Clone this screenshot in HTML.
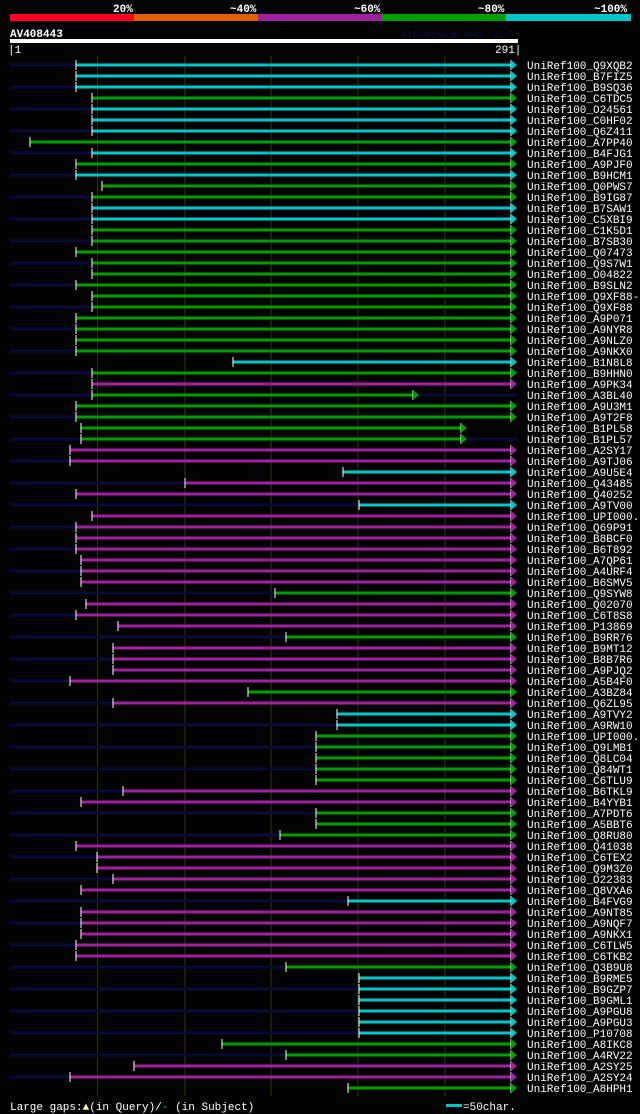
<!DOCTYPE html>
<html><head><meta charset="utf-8"><style>
html,body{margin:0;padding:0;background:#000;}
svg{display:block;}
text{font-family:"Liberation Mono",monospace;fill:#fff;}
</style></head><body>
<svg width="640" height="1114" xmlns="http://www.w3.org/2000/svg">
<rect width="640" height="1114" fill="#030303"/>
<g font-size="11" font-weight="bold">
<text x="113" y="12">20%</text><text x="230" y="12">~40%</text><text x="354" y="12">~60%</text><text x="478" y="12">~80%</text><text x="594" y="12">~100%</text>
</g>
<rect x="10" y="14" width="124" height="7" fill="#ff0022"/>
<rect x="134" y="14" width="124" height="7" fill="#e06000"/>
<rect x="258" y="14" width="124" height="7" fill="#a020a0"/>
<rect x="382" y="14" width="124" height="7" fill="#00a000"/>
<rect x="506" y="14" width="125" height="7" fill="#00c8c8"/>
<text x="10" y="37" font-size="11" font-weight="bold">AV408443</text>
<text x="402" y="37" font-size="8" style="fill:#101050">AlignView.pm Beta rel.7</text>
<rect x="10" y="39" width="508" height="4" fill="#fff"/>
<text x="8" y="53" font-size="11">|1</text>
<text x="495" y="53" font-size="11">291|</text>
<g stroke="#33330a" stroke-width="1">
<line x1="97.5" y1="56" x2="97.5" y2="1096"/><line x1="185" y1="56" x2="185" y2="1096"/><line x1="271" y1="56" x2="271" y2="1096"/><line x1="358" y1="56" x2="358" y2="1096"/><line x1="445" y1="56" x2="445" y2="1096"/>
</g>
<g id="rows" font-size="11"></g>
<text x="10" y="1110" font-size="11">Large gaps:<tspan style="fill:#ffff80">▲</tspan>(in Query)/<tspan style="fill:#00c8c8">-</tspan> (in Subject)</text>
<rect x="446" y="1104" width="16" height="3" fill="#00c8c8"/>
<text x="463" y="1110" font-size="11">=50char.</text>
<g font-size="11">
<text x="527" y="69">UniRef100_Q9XQB2</text>
<text x="527" y="80">UniRef100_B7FIZ5</text>
<text x="527" y="91">UniRef100_B9SQ36</text>
<text x="527" y="102">UniRef100_C6TDC5</text>
<text x="527" y="113">UniRef100_O24561</text>
<text x="527" y="124">UniRef100_C0HF02</text>
<text x="527" y="135">UniRef100_Q6Z411</text>
<text x="527" y="146">UniRef100_A7PP40</text>
<text x="527" y="157">UniRef100_B4FJG1</text>
<text x="527" y="168">UniRef100_A9PJF0</text>
<text x="527" y="179">UniRef100_B9HCM1</text>
<text x="527" y="190">UniRef100_Q0PWS7</text>
<text x="527" y="201">UniRef100_B9IG87</text>
<text x="527" y="212">UniRef100_B7SAW1</text>
<text x="527" y="223">UniRef100_C5XBI9</text>
<text x="527" y="234">UniRef100_C1K5D1</text>
<text x="527" y="245">UniRef100_B7SB30</text>
<text x="527" y="256">UniRef100_Q07473</text>
<text x="527" y="267">UniRef100_Q9S7W1</text>
<text x="527" y="278">UniRef100_O04822</text>
<text x="527" y="289">UniRef100_B9SLN2</text>
<text x="527" y="300">UniRef100_Q9XF88-2</text>
<text x="527" y="311">UniRef100_Q9XF88</text>
<text x="527" y="322">UniRef100_A9P071</text>
<text x="527" y="333">UniRef100_A9NYR8</text>
<text x="527" y="344">UniRef100_A9NLZ0</text>
<text x="527" y="355">UniRef100_A9NKX0</text>
<text x="527" y="366">UniRef100_B1N8L8</text>
<text x="527" y="377">UniRef100_B9HHN0</text>
<text x="527" y="388">UniRef100_A9PK34</text>
<text x="527" y="399">UniRef100_A3BL40</text>
<text x="527" y="410">UniRef100_A9U3M1</text>
<text x="527" y="421">UniRef100_A9T2F8</text>
<text x="527" y="432">UniRef100_B1PL58</text>
<text x="527" y="443">UniRef100_B1PL57</text>
<text x="527" y="454">UniRef100_A2SY17</text>
<text x="527" y="465">UniRef100_A9TJ06</text>
<text x="527" y="476">UniRef100_A9U5E4</text>
<text x="527" y="487">UniRef100_Q43485</text>
<text x="527" y="498">UniRef100_Q40252</text>
<text x="527" y="509">UniRef100_A9TV00</text>
<text x="527" y="520">UniRef100_UPI000..</text>
<text x="527" y="531">UniRef100_Q69P91</text>
<text x="527" y="542">UniRef100_B8BCF0</text>
<text x="527" y="553">UniRef100_B6T892</text>
<text x="527" y="564">UniRef100_A7QP61</text>
<text x="527" y="575">UniRef100_A4URF4</text>
<text x="527" y="586">UniRef100_B6SMV5</text>
<text x="527" y="597">UniRef100_Q9SYW8</text>
<text x="527" y="608">UniRef100_Q02070</text>
<text x="527" y="619">UniRef100_C6T8S8</text>
<text x="527" y="630">UniRef100_P13869</text>
<text x="527" y="641">UniRef100_B9RR76</text>
<text x="527" y="652">UniRef100_B9MT12</text>
<text x="527" y="663">UniRef100_B8B7R6</text>
<text x="527" y="674">UniRef100_A9PJQ2</text>
<text x="527" y="685">UniRef100_A5B4F0</text>
<text x="527" y="696">UniRef100_A3BZ84</text>
<text x="527" y="707">UniRef100_Q6ZL95</text>
<text x="527" y="718">UniRef100_A9TVY2</text>
<text x="527" y="729">UniRef100_A9RW10</text>
<text x="527" y="740">UniRef100_UPI000..</text>
<text x="527" y="751">UniRef100_Q9LMB1</text>
<text x="527" y="762">UniRef100_Q8LC04</text>
<text x="527" y="773">UniRef100_Q84WT1</text>
<text x="527" y="784">UniRef100_C6TLU9</text>
<text x="527" y="795">UniRef100_B6TKL9</text>
<text x="527" y="806">UniRef100_B4YYB1</text>
<text x="527" y="817">UniRef100_A7PDT6</text>
<text x="527" y="828">UniRef100_A5BBT6</text>
<text x="527" y="839">UniRef100_Q8RU80</text>
<text x="527" y="850">UniRef100_Q41038</text>
<text x="527" y="861">UniRef100_C6TEX2</text>
<text x="527" y="872">UniRef100_Q9M3Z0</text>
<text x="527" y="883">UniRef100_O22383</text>
<text x="527" y="894">UniRef100_Q8VXA6</text>
<text x="527" y="905">UniRef100_B4FVG9</text>
<text x="527" y="916">UniRef100_A9NT85</text>
<text x="527" y="927">UniRef100_A9NQF7</text>
<text x="527" y="938">UniRef100_A9NKX1</text>
<text x="527" y="949">UniRef100_C6TLW5</text>
<text x="527" y="960">UniRef100_C6TKB2</text>
<text x="527" y="971">UniRef100_Q3B9U8</text>
<text x="527" y="982">UniRef100_B9RME5</text>
<text x="527" y="993">UniRef100_B9GZP7</text>
<text x="527" y="1004">UniRef100_B9GML1</text>
<text x="527" y="1015">UniRef100_A9PGU8</text>
<text x="527" y="1026">UniRef100_A9PGU3</text>
<text x="527" y="1037">UniRef100_P10708</text>
<text x="527" y="1048">UniRef100_A8IKC8</text>
<text x="527" y="1059">UniRef100_A4RV22</text>
<text x="527" y="1070">UniRef100_A2SY25</text>
<text x="527" y="1081">UniRef100_A2SY24</text>
<text x="527" y="1092">UniRef100_A8HPH1</text>
</g>
</svg>
<script>
var d=[[76,'c'],[76,'c'],[76,'c'],[92,'g'],[92,'c'],[92,'c'],[92,'c'],[30,'g'],[92,'c'],[76,'g'],[76,'c'],[102,'g'],[92,'g'],[92,'c'],[92,'c'],[92,'g'],[92,'g'],[76,'g'],[92,'g'],[92,'g'],[76,'g'],[92,'g'],[92,'g'],[76,'g'],[76,'g'],[76,'g'],[76,'g'],[233,'c'],[92,'g'],[92,'m'],[92,'g',413],[76,'g'],[76,'g'],[81,'g',461],[81,'g',461],[70,'m'],[70,'m'],[343,'c'],[185,'m'],[76,'m'],[359,'c'],[92,'m'],[76,'m'],[76,'m'],[76,'m'],[81,'m'],[81,'m'],[81,'m'],[275,'g'],[86,'m'],[76,'m'],[118,'m'],[286,'g'],[113,'m'],[113,'m'],[113,'m'],[70,'m'],[248,'g'],[113,'m'],[337,'c'],[337,'c'],[316,'g'],[316,'g'],[316,'g'],[316,'g'],[316,'g'],[123,'m'],[81,'m'],[316,'g'],[316,'g'],[280,'g'],[76,'m'],[97,'m'],[97,'m'],[113,'m'],[81,'m'],[348,'c'],[81,'m'],[81,'m'],[81,'m'],[76,'m'],[76,'m'],[286,'g'],[359,'c'],[359,'c'],[359,'c'],[359,'c'],[359,'c'],[359,'c'],[222,'g'],[286,'g'],[134,'m'],[70,'m'],[348,'g']];
var col={c:'#00c8c8',g:'#00a000',m:'#a020a0'};
var s='';
d.forEach(function(r,i){var y=65+i*11,e=r[2]||511,c=col[r[1]];
if(i%2==0)s+='<line x1="10" y1="'+y+'" x2="517" y2="'+y+'" stroke="#0a0a3a" stroke-width="3"/>';
s+='<line x1="'+r[0]+'" y1="'+y+'" x2="'+e+'" y2="'+y+'" stroke="'+c+'" stroke-width="3"/>';
s+='<line x1="'+r[0]+'" y1="'+(y-5)+'" x2="'+r[0]+'" y2="'+(y+5)+'" stroke="#fff" stroke-width="1"/>';
s+='<line x1="'+e+'" y1="'+(y-5)+'" x2="'+e+'" y2="'+(y+5)+'" stroke="#fff" stroke-width="1"/>';
s+='<polygon points="'+e+','+(y-5)+' '+(e+6)+','+y+' '+e+','+(y+5)+'" fill="'+c+'"/>';});
document.getElementById('rows').innerHTML=s;
</script>
</body></html>
